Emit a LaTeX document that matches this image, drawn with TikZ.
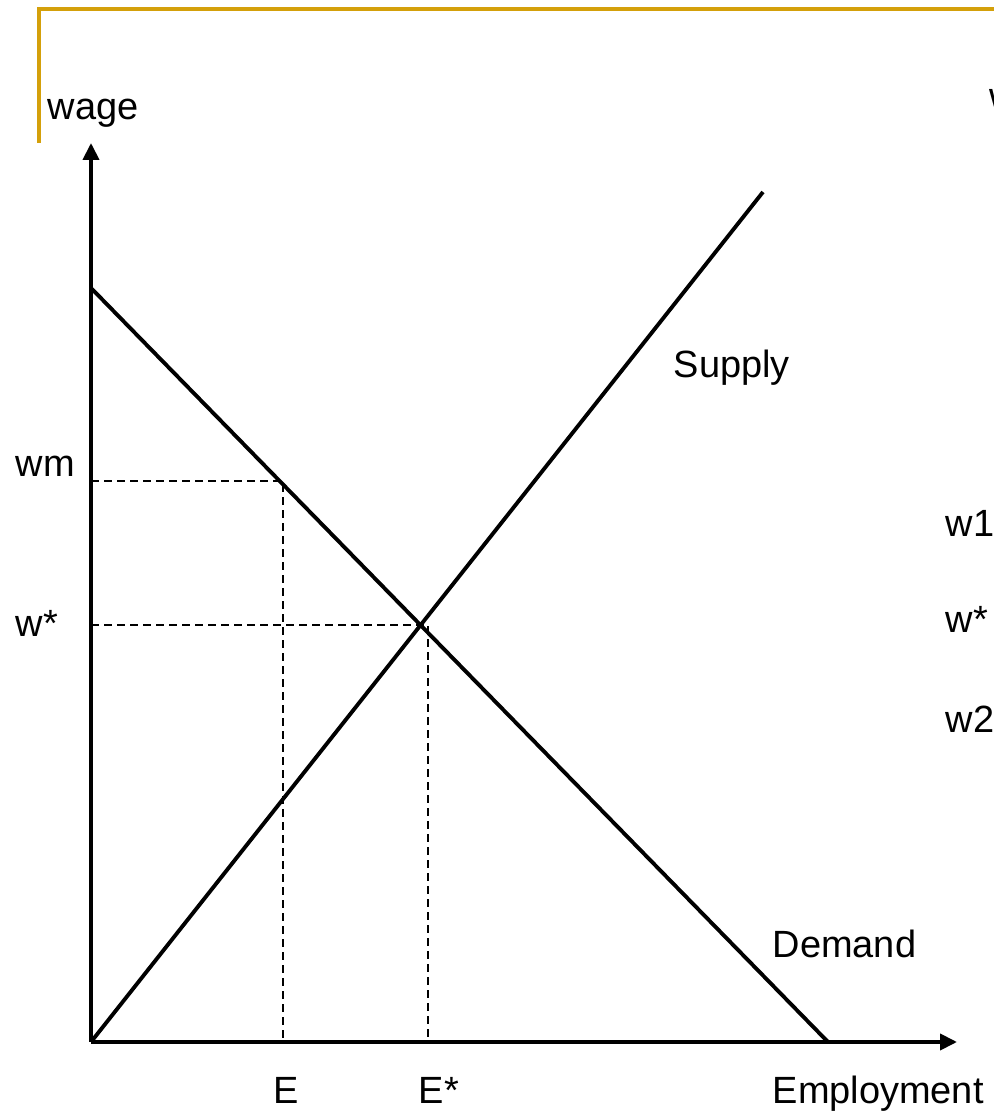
\documentclass[tikz,border=0pt]{standalone}
\usepackage{fontspec}
\setmainfont{Liberation Sans}
\usepackage{tikz}
\usetikzlibrary{arrows.meta, positioning, calc}
\definecolor{framegold}{RGB}{212,160,10}

\begin{document}
\begin{tikzpicture}[
        >={Triangle[length=0.17cm, width=0.16cm]},
        lbl/.style={anchor=base west, inner sep=0pt, font=\fontsize{10.8}{13}\selectfont},
        axis/.style={->, line width=1.1pt},
        curve/.style={line width=1.1pt},
        guide/.style={line width=0.5pt, dash pattern=on 2.3pt off 1.4pt},
        frameline/.style={framegold, line width=1.3pt},
    ]
    \useasboundingbox (-0.91, -0.73) rectangle (9.03, 10.42);
    % slide frame
    \coordinate (fcorner) at (-0.52, 10.33);
    \coordinate (fright) at (9.2, 10.33);
    \coordinate (fbottom) at (-0.52, 8.99);
    \draw[frameline] (fbottom) -- (fcorner) -- (fright);

    % axes
    \coordinate (O) at (0, 0);
    \coordinate (ytop) at (0, 8.99);
    \coordinate (xend) at (8.66, 0);
    \draw[axis] (O) -- (ytop);
    \draw[axis] (O) -- (xend);

    % demand and supply
    \coordinate (dtop) at (0, 7.54);
    \coordinate (dend) at (7.37, 0);
    \coordinate (send) at (6.72, 8.50);
    \draw[curve] (dtop) -- (dend);
    \draw[curve] (O) -- (send);

    % minimum wage and equilibrium
    \coordinate (wmpt) at (1.92, 5.61);
    \coordinate (eqpt) at (3.37, 4.17);
    \draw[guide] (wmpt -| O) -| (wmpt |- O);
    \draw[guide] (eqpt -| O) -| (eqpt |- O);

    \node[lbl] (wage) at (-0.44, 9.22) {wage};
    \node[lbl] (wm) at (-0.76, 5.65) {wm};
    \node[lbl] (wstar) at (-0.76, 4.05) {w*};
    \node[lbl] (E) at (1.82, -0.61) {E};
    \node[lbl] (Estar) at (3.27, -0.61) {E*};
    \node[lbl] (empl) at (6.81, -0.61) {Employment};
    \node[lbl] (supply) at (5.82, 6.64) {Supply};
    \node[lbl] (demand) at (6.81, 0.84) {Demand};

    % labels of the next panel, cut at the edge
    \node[lbl] (wnext) at (8.98, 9.32) {w};
    \node[lbl] (wone) at (8.54, 5.05) {w1};
    \node[lbl] (wstarnext) at (8.54, 4.09) {w*};
    \node[lbl] (wtwo) at (8.54, 3.09) {w2};
\end{tikzpicture}
\end{document}
